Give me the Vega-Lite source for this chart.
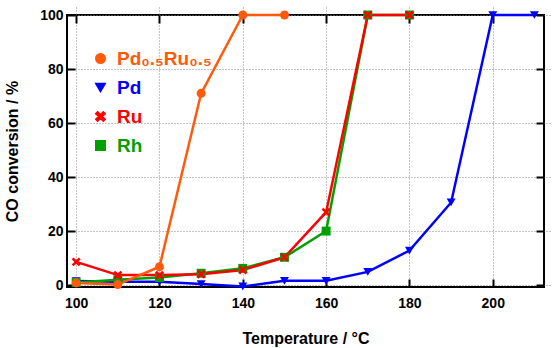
{
  "$schema": "https://vega.github.io/schema/vega-lite/v6.json",
  "width": 477,
  "height": 272,
  "autosize": "none",
  "padding": {"left": 67, "top": 15, "right": 13, "bottom": 61},
  "background": "white",
  "config": {
    "font": "Liberation Sans",
    "view": {"stroke": "black", "strokeWidth": 2},
    "axis": {"labelFont": "Liberation Sans", "labelFontWeight": "bold", "labelFontSize": 14, "labelColor": "black", "titleFont": "Liberation Sans", "titleFontWeight": "bold", "titleFontSize": 16, "titleColor": "black", "domain": false, "tickColor": "black", "tickWidth": 2, "tickSize": 8, "offset": -8}
  },
  "data": {"values": [
    {"catalyst": "Pd", "T": 100, "conv": 1.5},
    {"catalyst": "Pd", "T": 110, "conv": 1.2},
    {"catalyst": "Pd", "T": 120, "conv": 1.2},
    {"catalyst": "Pd", "T": 130, "conv": 0.4},
    {"catalyst": "Pd", "T": 140, "conv": -0.5},
    {"catalyst": "Pd", "T": 150, "conv": 1.6},
    {"catalyst": "Pd", "T": 160, "conv": 1.6},
    {"catalyst": "Pd", "T": 170, "conv": 4.9},
    {"catalyst": "Pd", "T": 180, "conv": 12.8},
    {"catalyst": "Pd", "T": 190, "conv": 30.6},
    {"catalyst": "Pd", "T": 200, "conv": 100},
    {"catalyst": "Pd", "T": 210, "conv": 100},
    {"catalyst": "Rh", "T": 100, "conv": 1.0},
    {"catalyst": "Rh", "T": 110, "conv": 2.0},
    {"catalyst": "Rh", "T": 120, "conv": 2.8},
    {"catalyst": "Rh", "T": 130, "conv": 4.4},
    {"catalyst": "Rh", "T": 140, "conv": 6.2},
    {"catalyst": "Rh", "T": 150, "conv": 10.3},
    {"catalyst": "Rh", "T": 160, "conv": 20},
    {"catalyst": "Rh", "T": 170, "conv": 100},
    {"catalyst": "Rh", "T": 180, "conv": 100},
    {"catalyst": "Ru", "T": 100, "conv": 8.6},
    {"catalyst": "Ru", "T": 110, "conv": 3.7},
    {"catalyst": "Ru", "T": 120, "conv": 3.7},
    {"catalyst": "Ru", "T": 130, "conv": 4.0},
    {"catalyst": "Ru", "T": 140, "conv": 5.6},
    {"catalyst": "Ru", "T": 150, "conv": 10.3},
    {"catalyst": "Ru", "T": 160, "conv": 27},
    {"catalyst": "Ru", "T": 170, "conv": 100},
    {"catalyst": "Ru", "T": 180, "conv": 100},
    {"catalyst": "Pd₀.₅Ru₀.₅", "T": 100, "conv": 0.8},
    {"catalyst": "Pd₀.₅Ru₀.₅", "T": 110, "conv": 0.2},
    {"catalyst": "Pd₀.₅Ru₀.₅", "T": 120, "conv": 6.8},
    {"catalyst": "Pd₀.₅Ru₀.₅", "T": 130, "conv": 71},
    {"catalyst": "Pd₀.₅Ru₀.₅", "T": 140, "conv": 100},
    {"catalyst": "Pd₀.₅Ru₀.₅", "T": 150, "conv": 100}
  ]},
  "resolve": {"axis": {"x": "independent", "y": "independent"}},
  "layer": [
    {
      "mark": {"type": "line", "strokeWidth": 2.5},
      "encoding": {
        "x": {"field": "T", "type": "quantitative", "scale": {"domain": [97.8, 212.3], "nice": false, "zero": false},
              "axis": {"orient": "bottom", "values": [100, 120, 140, 160, 180, 200], "title": "Temperature / °C", "grid": true, "gridColor": "#888", "gridDash": [1, 2], "gridWidth": 1, "labelPadding": 9, "titlePadding": 20}},
        "y": {"field": "conv", "type": "quantitative", "scale": {"domain": [-0.7, 100], "nice": false, "zero": false},
              "axis": {"orient": "left", "values": [0, 20, 40, 60, 80, 100], "title": "CO conversion / %", "grid": true, "gridColor": "#888", "gridDash": [1, 2], "gridWidth": 1, "labelPadding": 4, "titlePadding": 19}},
        "color": {"field": "catalyst", "type": "nominal",
                  "scale": {"domain": ["Pd₀.₅Ru₀.₅", "Pd", "Ru", "Rh"], "range": ["#FF5A0A", "#0000FF", "#FF0000", "#00A000"]}},
        "detail": {"field": "catalyst"},
        "order": {"field": "T"}
      }
    },
    {
      "mark": {"type": "point", "filled": true, "opacity": 1, "size": 80},
      "encoding": {
        "x": {"field": "T", "type": "quantitative", "axis": {"orient": "top", "values": [100, 120, 140, 160, 180, 200], "labels": false, "title": null, "grid": false}},
        "y": {"field": "conv", "type": "quantitative", "axis": {"orient": "right", "values": [0, 20, 40, 60, 80, 100], "labels": false, "title": null, "grid": false}},
        "color": {"field": "catalyst", "type": "nominal",
                  "legend": {"orient": "none", "legendX": 24, "legendY": 34, "title": null, "labelFontSize": 19, "labelFontWeight": "bold", "labelFont": "Liberation Sans", "symbolSize": 90, "rowPadding": 9, "labelOffset": 7, "padding": 0,
                             "labelColor": {"expr": "scale('color', datum.value)"}}},
        "shape": {"field": "catalyst", "type": "nominal",
                  "legend": {"orient": "none", "legendX": 24, "legendY": 34, "title": null, "labelFontSize": 19, "labelFontWeight": "bold", "labelFont": "Liberation Sans", "symbolSize": 90, "rowPadding": 9, "labelOffset": 7, "padding": 0,
                             "labelColor": {"expr": "scale('color', datum.value)"}},
                  "scale": {"domain": ["Pd₀.₅Ru₀.₅", "Pd", "Ru", "Rh"], "range": ["circle", "triangle-down", "M-1,-0.6L-0.6,-1L0,-0.4L0.6,-1L1,-0.6L0.4,0L1,0.6L0.6,1L0,0.4L-0.6,1L-1,0.6L-0.4,0Z", "square"]}}
      }
    }
  ]
}
